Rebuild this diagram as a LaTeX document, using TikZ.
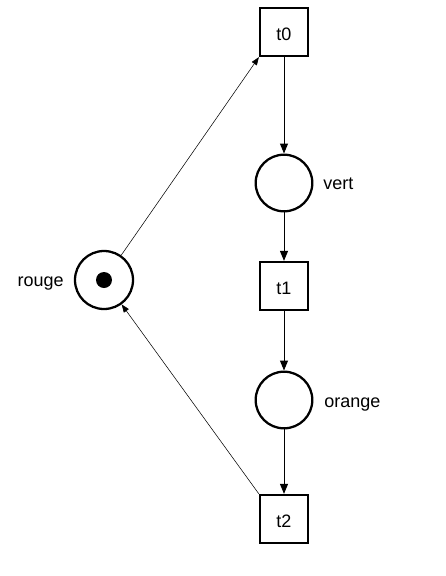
\documentclass[tikz,border=0pt]{standalone}
\usepackage{fontspec}
\setmainfont{Liberation Sans}
\usetikzlibrary{arrows.meta}
\begin{document}
\begin{tikzpicture}[x=0.75pt,y=-0.75pt,
 trans/.style={draw, line width=1.7pt, minimum width=36pt, minimum height=36pt, inner sep=0pt},
 place/.style={draw, circle, line width=1.7pt, minimum size=42.5pt, inner sep=0pt},
 lbl/.style={inner sep=0pt, font=\fontsize{13.5}{16}\selectfont},
 arc/.style={line width=0.75pt, -{Triangle[length=7.5pt,width=6pt]}},
 thinarc/.style={line width=0.4pt, -{Triangle[length=6pt,width=4.5pt]}},
 tok/.style={circle, fill, minimum size=12pt, inner sep=0pt}]
\useasboundingbox (0,0) rectangle (446,576);
\node[trans] (t0) at (284,32) {};
\node[place] (vert) at (284,183) {};
\node[trans] (t1) at (284,286) {};
\node[place] (orange) at (284,400) {};
\node[trans] (t2) at (284,519) {};
\node[place, minimum size=43.5pt] (rouge) at (104,280) {};
\node[tok] (tk) at (rouge) {};
\node[lbl, anchor=base] (l0) at (284,40) {t0};
\node[lbl, anchor=base] (l1) at (284,294) {t1};
\node[lbl, anchor=base] (l2) at (284,527) {t2};
\node[lbl, anchor=base west] (lv) at (323,189) {vert};
\node[lbl, anchor=base west] (lo) at (324,407) {orange};
\node[lbl, anchor=base east] (lr) at (64,286) {rouge};
\draw[arc] (t0) -- (vert);
\draw[arc] (vert) -- (t1);
\draw[arc] (t1) -- (orange);
\draw[arc] (orange) -- (t2);
\draw[thinarc] (rouge) -- (t0.south west);
\draw[thinarc] (t2.north west) -- (rouge);
\end{tikzpicture}
\end{document}
